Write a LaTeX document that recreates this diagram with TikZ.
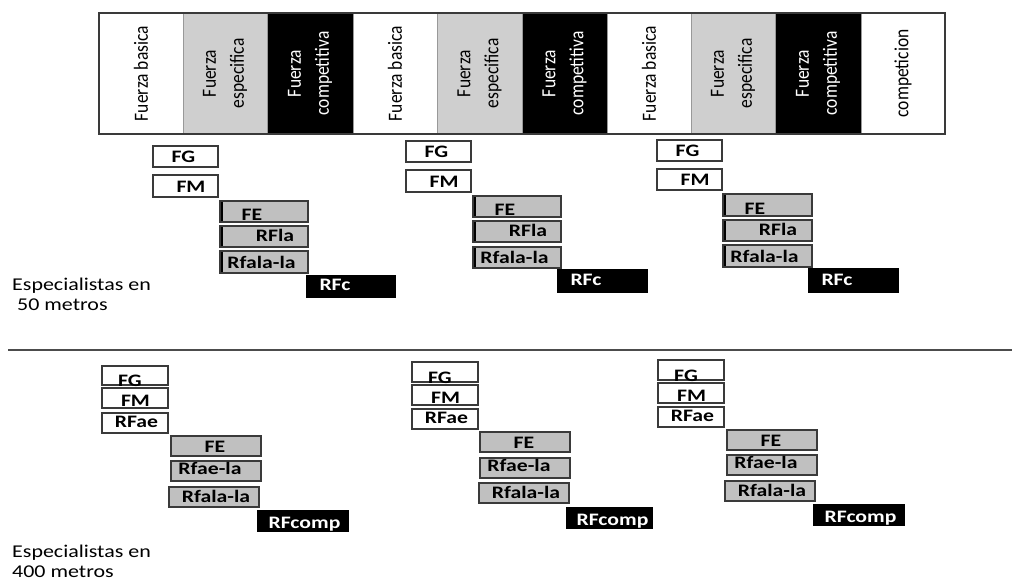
\documentclass[tikz,border=0pt]{standalone}
\usepackage{fontspec}
\setmainfont{Carlito}
\newfontfamily\lblfont{Carlito}[FakeStretch=1.24]
\newfontfamily\txtfont{Carlito}[FakeStretch=1.22]
\definecolor{hgray}{HTML}{CFCFCF}
\definecolor{bgray}{HTML}{C0C0C0}
\definecolor{bord}{HTML}{3A3A3A}
\tikzset{
  hcell/.style={draw=gray!80, line width=0.8pt, inner sep=0pt, outer sep=0pt},
  htext/.style={rotate=90, yscale=1.15, align=center, inner sep=0pt, font=\fontsize{17.5}{24.5}\selectfont},
  lbl/.style={inner sep=0pt, font=\lblfont\bfseries\fontsize{17.5}{20}\selectfont},
  wb/.style={draw=bord, fill=white, line width=1.1pt, inner sep=0pt, outer sep=0pt},
  gb/.style={draw=bord, fill=bgray, line width=1.1pt, inner sep=0pt, outer sep=0pt},
  gbl/.style={gb, path picture={\draw[line width=5pt, black] (path picture bounding box.south west) -- (path picture bounding box.north west);}},
  kb/.style={draw=black, fill=black, line width=1.1pt, inner sep=0pt, outer sep=0pt},
  wbt/.style={lbl, text=black},
  gbt/.style={lbl, text=black},
  gblt/.style={lbl, text=black},
  kbt/.style={lbl, text=white},
  sidetxt/.style={anchor=base west, inner sep=0pt, font=\txtfont\fontsize{18}{21}\selectfont},
  sep/.style={draw=black!70, line width=1.4pt}
}
% name, style, x1, y1, x2, y2, text, dx (text centre from left), dy (baseline above bottom)
\newcommand\bx[9]{%
  \node[#2, minimum width={#5pt-#3pt}, minimum height={#6pt-#4pt}] (#1) at ({(#3+#5)/2},{(#4+#6)/2}) {};
  \node[#2t, anchor=base] (#1t) at ({#3+#8},{#6-#9}) {#7};
}
\newcommand\hc[4]{% name, x1, x2, fill
  \node[hcell, fill=#4, minimum width={#3pt-#2pt}, minimum height=121pt] (#1) at ({(#2+#3)/2},73.5) {};
}
\begin{document}
\begin{tikzpicture}[x=1pt,y=-1pt]
\useasboundingbox (0,0) rectangle (1012,581);
% header
\hc{c1}{99}{183}{white}
\hc{c2}{183}{267}{hgray}
\hc{c3}{267}{353}{black}
\hc{c4}{353}{437}{white}
\hc{c5}{437}{522}{hgray}
\hc{c6}{522}{607}{black}
\hc{c7}{607}{691}{white}
\hc{c8}{691}{775}{hgray}
\hc{c9}{775}{861}{black}
\hc{c10}{861}{945}{white}
\draw[draw=bord, line width=1.1pt] (c1.north west) rectangle (c10.south east);
\node[htext] (t1) at (c1) {Fuerza basica};
\node[htext] (t2) at (c2) {Fuerza\\ especifica};
\node[htext, text=white] (t3) at (c3) {Fuerza\\ competitiva};
\node[htext] (t4) at (c4) {Fuerza basica};
\node[htext] (t5) at (c5) {Fuerza\\ especifica};
\node[htext, text=white] (t6) at (c6) {Fuerza\\ competitiva};
\node[htext] (t7) at (c7) {Fuerza basica};
\node[htext] (t8) at (c8) {Fuerza\\ especifica};
\node[htext, text=white] (t9) at (c9) {Fuerza\\ competitiva};
\node[htext] (t10) at (c10) {competicion};

% top section, group 1
\bx{aFG}{wb}{153}{146}{218}{167}{FG}{30.5}{5}
\bx{aFM}{wb}{153}{175}{218}{197}{FM}{38}{5}
\bx{aFE}{gbl}{220}{201}{308}{222}{FE}{32}{2}
\bx{aRF}{gbl}{220}{226}{308}{247}{RFla}{55}{6}
\bx{aRR}{gbl}{220}{251}{308}{273}{Rfala-la}{41.5}{5}
\bx{aRC}{kb}{307}{276}{395}{297}{RFc}{28}{7}
% group 2
\bx{bFG}{wb}{406}{141}{471}{162}{FG}{30.5}{5}
\bx{bFM}{wb}{406}{170}{471}{192}{FM}{38}{5}
\bx{bFE}{gbl}{473}{196}{561}{217}{FE}{32}{2}
\bx{bRF}{gbl}{473}{221}{561}{242}{RFla}{55}{6}
\bx{bRR}{gbl}{473}{247}{561}{268}{Rfala-la}{41.5}{5}
\bx{bRC}{kb}{558}{270}{647}{292}{RFc}{28}{7}
% group 3
\bx{cFG}{wb}{657}{140}{722}{161}{FG}{30.5}{5}
\bx{cFM}{wb}{657}{169}{722}{190}{FM}{38}{5}
\bx{cFE}{gbl}{723}{194}{812}{216}{FE}{32}{2}
\bx{cRF}{gbl}{723}{220}{812}{241}{RFla}{55}{6}
\bx{cRR}{gbl}{723}{245}{812}{267}{Rfala-la}{41.5}{5}
\bx{cRC}{kb}{809}{269}{898}{292}{RFc}{28}{7}

\node[sidetxt] (s1) at (12,290) {Especialistas en};
\node[sidetxt] (s2) at (17,310) {50 metros};

% separator
\coordinate (l1) at (8,350);
\coordinate (l2) at (1012,350);
\draw[sep] (l1) -- (l2);

% bottom section, group 1
\bx{dFG}{wb}{102}{366}{168}{385}{FG}{28}{-1}
\bx{dFM}{wb}{102}{388}{168}{408}{FM}{33.5}{2}
\bx{dRA}{wb}{102}{413}{168}{433}{RFae}{34.5}{6}
\bx{dFE}{gb}{171}{436}{261}{456}{FE}{44}{4}
\bx{dRE}{gb}{171}{461}{261}{481}{Rfae-la}{39}{7}
\bx{dRR}{gb}{169}{487}{259}{507}{Rfala-la}{47}{5}
\bx{dRC}{kb}{258}{511}{348}{531}{RFcomp}{46.5}{3}
% group 2
\bx{eFG}{wb}{412}{362}{478}{382}{FG}{28}{-1}
\bx{eFM}{wb}{412}{385}{478}{405}{FM}{33.5}{2}
\bx{eRA}{wb}{412}{409}{478}{429}{RFae}{34.5}{6}
\bx{eFE}{gb}{480}{432}{570}{452}{FE}{44}{4}
\bx{eRE}{gb}{480}{458}{570}{478}{Rfae-la}{39}{7}
\bx{eRR}{gb}{479}{483}{569}{503}{Rfala-la}{47}{5}
\bx{eRC}{kb}{567}{508}{652}{528}{RFcomp}{45.5}{3}
% group 3
\bx{fFG}{wb}{658}{360}{724}{380}{FG}{28}{-1}
\bx{fFM}{wb}{658}{383}{724}{403}{FM}{33.5}{2}
\bx{fRA}{wb}{658}{407}{724}{427}{RFae}{34.5}{6}
\bx{fFE}{gb}{727}{430}{817}{450}{FE}{44}{4}
\bx{fRE}{gb}{727}{455}{817}{475}{Rfae-la}{39}{7}
\bx{fRR}{gb}{725}{481}{815}{501}{Rfala-la}{47}{5}
\bx{fRC}{kb}{814}{505}{904}{525}{RFcomp}{46.5}{3}

\node[sidetxt] (s3) at (12,557) {Especialistas en};
\node[sidetxt] (s4) at (12,577) {400 metros};
\end{tikzpicture}
\end{document}
